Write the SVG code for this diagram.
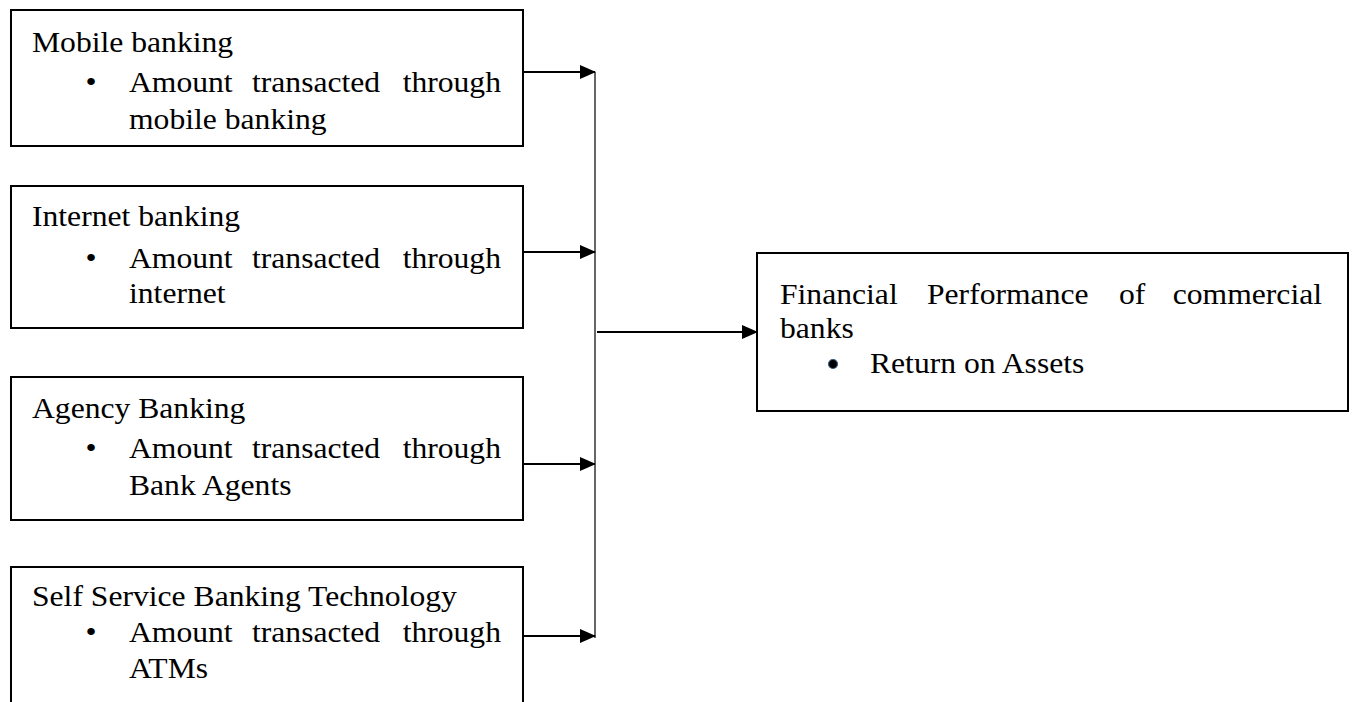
<svg xmlns="http://www.w3.org/2000/svg" width="1354" height="702" viewBox="0 0 1354 702">
<style>
  .box { fill: #fff; stroke: #000; stroke-width: 2; }
  .t { font-family: "Liberation Serif", "Times New Roman", serif; font-size: 28.5px; fill: #000; }
  .e { text-anchor: end; }
  .m { text-anchor: middle; }
  .arrow { stroke: #000; stroke-width: 2.2; fill: none; marker-end: url(#ah); }
  .thin { stroke: #000; stroke-width: 1.2; fill: none; }
</style>
<defs>
  <marker id="ah" markerWidth="16" markerHeight="14" refX="15" refY="7" orient="auto" markerUnits="userSpaceOnUse">
    <path d="M0,0 L16,7 L0,14 Z" fill="#000"/>
  </marker>
</defs>
<rect width="1354" height="702" fill="#fff"/>

<g id="mobile">
  <rect class="box" x="11" y="10" width="512" height="136"/>
  <text class="t" transform="translate(32,52) scale(1.11,1)">Mobile banking</text>
  <text class="t m" transform="translate(91,92) scale(1.11,1)">•</text>
  <text class="t" transform="translate(129,92) scale(1.11,1)">Amount</text>
  <text class="t" transform="translate(252,92) scale(1.11,1)">transacted</text>
  <text class="t e" transform="translate(501,92) scale(1.11,1)">through</text>
  <text class="t" transform="translate(129,129) scale(1.11,1)">mobile banking</text>
</g>

<g id="internet">
  <rect class="box" x="11" y="186" width="512" height="142"/>
  <text class="t" transform="translate(32,226) scale(1.11,1)">Internet banking</text>
  <text class="t m" transform="translate(91,268) scale(1.11,1)">•</text>
  <text class="t" transform="translate(129,268) scale(1.11,1)">Amount</text>
  <text class="t" transform="translate(252,268) scale(1.11,1)">transacted</text>
  <text class="t e" transform="translate(501,268) scale(1.11,1)">through</text>
  <text class="t" transform="translate(129,303) scale(1.11,1)">internet</text>
</g>

<g id="agency">
  <rect class="box" x="11" y="377" width="512" height="143"/>
  <text class="t" transform="translate(32,418) scale(1.11,1)">Agency Banking</text>
  <text class="t m" transform="translate(91,458) scale(1.11,1)">•</text>
  <text class="t" transform="translate(129,458) scale(1.11,1)">Amount</text>
  <text class="t" transform="translate(252,458) scale(1.11,1)">transacted</text>
  <text class="t e" transform="translate(501,458) scale(1.11,1)">through</text>
  <text class="t" transform="translate(129,495) scale(1.11,1)">Bank Agents</text>
</g>

<g id="selfservice">
  <rect class="box" x="11" y="567" width="512" height="160"/>
  <text class="t" transform="translate(32,606) scale(1.11,1)">Self Service Banking Technology</text>
  <text class="t m" transform="translate(91,642) scale(1.11,1)">•</text>
  <text class="t" transform="translate(129,642) scale(1.11,1)">Amount</text>
  <text class="t" transform="translate(252,642) scale(1.11,1)">transacted</text>
  <text class="t e" transform="translate(501,642) scale(1.11,1)">through</text>
  <text class="t" transform="translate(129,678) scale(1.11,1)">ATMs</text>
</g>

<g id="performance">
  <rect class="box" x="757" y="253" width="591" height="158"/>
  <text class="t" transform="translate(780,304) scale(1.11,1)">Financial</text>
  <text class="t" transform="translate(927,304) scale(1.11,1)">Performance</text>
  <text class="t" transform="translate(1119,304) scale(1.11,1)">of</text>
  <text class="t e" transform="translate(1322,304) scale(1.11,1)">commercial</text>
  <text class="t" transform="translate(780,338) scale(1.11,1)">banks</text>
  <circle cx="833" cy="364" r="4.5" fill="#000" stroke="#3a5f8a" stroke-width="1.2"/>
  <text class="t" transform="translate(870,373) scale(1.11,1)">Return on Assets</text>
</g>

<g id="connectors">
  <line class="thin" x1="595" y1="72" x2="595" y2="638"/>
  <line class="arrow" x1="523" y1="72" x2="595" y2="72"/>
  <line class="arrow" x1="523" y1="252" x2="595" y2="252"/>
  <line class="arrow" x1="523" y1="464" x2="595" y2="464"/>
  <line class="arrow" x1="523" y1="636" x2="595" y2="636"/>
  <line class="arrow" x1="597" y1="332" x2="757" y2="332"/>
</g>
</svg>
